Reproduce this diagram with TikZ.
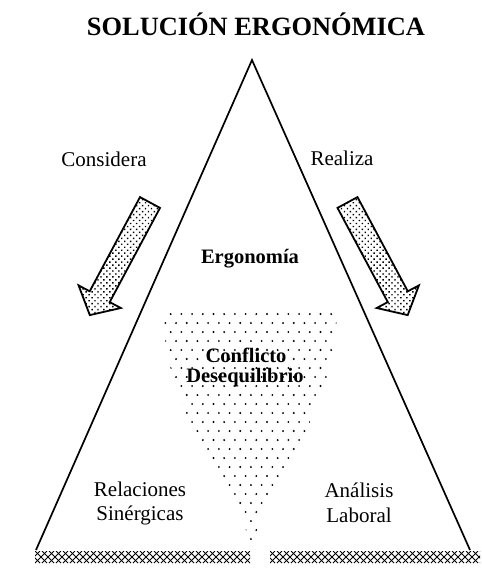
\documentclass[tikz,border=0pt]{standalone}
\usepackage{fontspec}
\setmainfont{Liberation Serif}
\usetikzlibrary{patterns.meta}
\begin{document}
\begin{tikzpicture}[x=1pt,y=-1pt,
  lbl/.style={font=\fontsize{21}{25}\selectfont, anchor=base, inner sep=0pt},
  blbl/.style={font=\fontsize{20.5}{24}\selectfont\bfseries, anchor=base, inner sep=0pt},
  ttl/.style={font=\fontsize{26.4}{30}\selectfont\bfseries, anchor=base, inner sep=0pt},
  edge/.style={line width=1.7pt, line join=miter},
  bigarrow/.style={draw, line width=1.8pt, line join=miter, pattern={Dots[radius=1pt,distance=4.2pt,angle=45]}},
  hatch/.style={line width=0.9pt},
  dot/.style={fill=black}]
\useasboundingbox (0,0) rectangle (482,568);

% title
\node[ttl] (title) at (256,35) {SOLUCIÓN ERGONÓMICA};

% triangle (open base)
\draw[edge] (36,550) -- (252,60) -- (470,550);

% dotted funnel
\begin{scope}
  \clip (163,310) -- (337,310) .. controls (335,420) and (270,470) .. (252,548)
        .. controls (230,470) and (165,420) .. (163,310) -- cycle;
  \foreach \r in {0,...,26} {
    \foreach \c in {0,...,17} {
      \fill[dot] ({160+\c*10.7+mod(\r,2)*5.35},{314+\r*9}) circle (1.05);
    }
  }
\end{scope}

% block arrows
\draw[bigarrow] (140,197.1) -- (89.7,291.3) -- (78.6,285.4) -- (89.8,315.1)
  -- (120.8,308.0) -- (109.7,302.1) -- (160,207.9) -- cycle;
\draw[bigarrow] (357.5,197.1) -- (407.8,291.3) -- (418.9,285.4) -- (407.7,315.1)
  -- (376.7,308.0) -- (387.8,302.1) -- (337.5,207.9) -- cycle;

% hatched bands
\begin{scope}
  \clip (35,551) rectangle (250,563);
  \foreach \x in {21,28,...,256} {
    \draw[hatch] (\x,551) -- (\x+12,563);
    \draw[hatch] (\x+12,551) -- (\x,563);
  }
\end{scope}
\begin{scope}
  \clip (270,551) rectangle (480,563);
  \foreach \x in {256,263,...,486} {
    \draw[hatch] (\x,551) -- (\x+12,563);
    \draw[hatch] (\x+12,551) -- (\x,563);
  }
\end{scope}

% labels
\node[lbl] (considera) at (104,166) {Considera};
\node[lbl] (realiza) at (342,165) {Realiza};
\node[blbl] (ergonomia) at (250,263) {Ergonomía};
\node[blbl] (conflicto) at (246,362) {Conflicto};
\node[blbl] (deseq) at (245,382) {Desequilibrio};
\node[lbl] (relaciones) at (140,496) {Relaciones};
\node[lbl] (sinergicas) at (140,520) {Sinérgicas};
\node[lbl] (analisis) at (359,497) {Análisis};
\node[lbl] (laboral) at (359,522) {Laboral};
\end{tikzpicture}
\end{document}
